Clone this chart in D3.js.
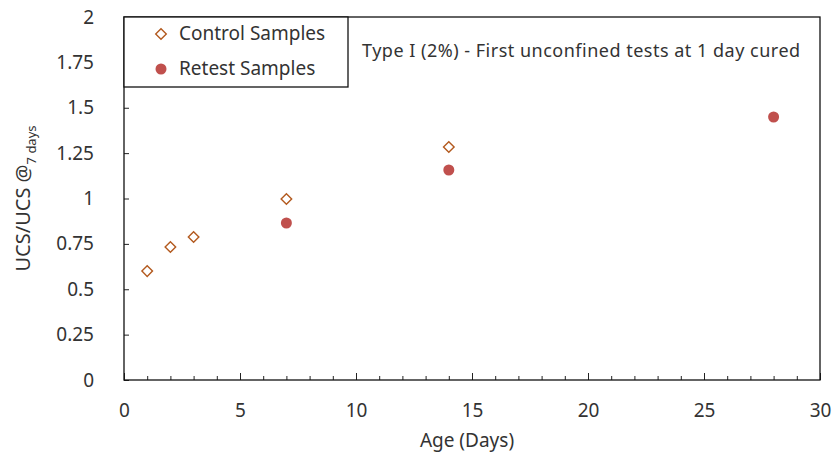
<!DOCTYPE html>
<html>
<head>
<script src="https://d3js.org/d3.v7.min.js"></script>
<style>
  body { margin: 0; background: #fff; }
  text { font-family: "Noto Sans", sans-serif; fill: #333; }
</style>
</head>
<body>
<div id="chart"></div>
<script>
const controlDays = [1, 2, 3, 7, 14];
const controlRatio = [0.60, 0.733, 0.788, 0.997, 1.284];
const retestDays = [7, 14, 28];
const retestRatio = [0.865, 1.157, 1.449];
const xTicks = [0, 5, 10, 15, 20, 25, 30];
const yTicks = [0, 0.25, 0.5, 0.75, 1, 1.25, 1.5, 1.75, 2];

const W = 836, H = 463;
const margin = {top: 17, right: 16, bottom: 83, left: 124};
const width = W - margin.left - margin.right;
const height = H - margin.top - margin.bottom;

const svg = d3.select("#chart").append("svg")
    .attr("width", W).attr("height", H);
const g = svg.append("g").attr("transform", `translate(${margin.left},${margin.top})`);

const x = d3.scaleLinear().domain([0, 30]).range([0, width]);
const y = d3.scaleLinear().domain([0, 2]).range([height, 0]);

// minor x ticks (every day), inward
g.append("g")
    .attr("transform", `translate(0,${height})`)
    .call(d3.axisBottom(x).tickValues(d3.range(0, 31, 1)).tickSize(-4).tickFormat(""))
    .call(a => a.select(".domain").remove())
    .selectAll("line").attr("stroke", "#222");

// major x ticks and labels
const xAxis = g.append("g")
    .attr("transform", `translate(0,${height})`)
    .call(d3.axisBottom(x).tickValues(xTicks).tickSize(-7).tickPadding(24).tickFormat(d3.format("d")));
xAxis.select(".domain").remove();
xAxis.selectAll("line").attr("stroke", "#222");
xAxis.selectAll("text").style("font-size", "19px").style("font-family", "Noto Sans").attr("fill", "#333");

const yAxis = g.append("g")
    .call(d3.axisLeft(y).tickValues(yTicks).tickSize(-5).tickPadding(30).tickFormat(d => String(d)));
yAxis.select(".domain").remove();
yAxis.selectAll("line").attr("stroke", "#222");
yAxis.selectAll("text").style("font-size", "19px").style("font-family", "Noto Sans").attr("fill", "#333");

// plot frame
g.append("rect")
    .attr("width", width).attr("height", height)
    .attr("fill", "none").attr("stroke", "#111").attr("stroke-width", 1.3);

const diamond = d3.symbol().type(d3.symbolSquare).size(56);

g.selectAll(".ctrl").data(controlDays).join("path")
    .attr("class", "ctrl")
    .attr("d", diamond)
    .attr("transform", (d, i) => `translate(${x(d)},${y(controlRatio[i])}) rotate(45)`)
    .attr("fill", "none").attr("stroke", "#b35a1f").attr("stroke-width", 1.4);

g.selectAll(".ret").data(retestDays).join("circle")
    .attr("class", "ret")
    .attr("cx", d => x(d)).attr("cy", (d, i) => y(retestRatio[i]))
    .attr("r", 5.5).attr("fill", "#c0504d");

// legend
const leg = g.append("g");
leg.append("rect").attr("x", 0).attr("y", 0).attr("width", 224).attr("height", 70)
    .attr("fill", "#fff").attr("stroke", "#111").attr("stroke-width", 1.3);
leg.append("path").attr("d", diamond)
    .attr("transform", "translate(37,17) rotate(45)")
    .attr("fill", "none").attr("stroke", "#b35a1f").attr("stroke-width", 1.4);
leg.append("text").attr("x", 55).attr("y", 16).attr("dy", "0.35em")
    .style("font-size", "19px").text("Control Samples");
leg.append("circle").attr("cx", 37).attr("cy", 52).attr("r", 5.5).attr("fill", "#c0504d");
leg.append("text").attr("x", 55).attr("y", 51).attr("dy", "0.35em")
    .style("font-size", "19px").text("Retest Samples");

// annotation
g.append("text").attr("x", 238).attr("y", 34).attr("dy", "0.35em")
    .style("font-size", "18px").style("letter-spacing", "0.5px")
    .text("Type I (2%) - First unconfined tests at 1 day cured");

// axis titles
svg.append("text").attr("x", margin.left + width / 2 - 5).attr("y", 447)
    .attr("text-anchor", "middle").style("font-size", "19px").text("Age (Days)");

const yl = svg.append("text")
    .attr("transform", `translate(30,${margin.top + height / 2}) rotate(-90)`)
    .attr("text-anchor", "middle").style("font-size", "20px");
yl.append("tspan").text("UCS/UCS @");
yl.append("tspan").attr("dy", 6).style("font-size", "13px").text("7 days");
</script>
</body>
</html>
